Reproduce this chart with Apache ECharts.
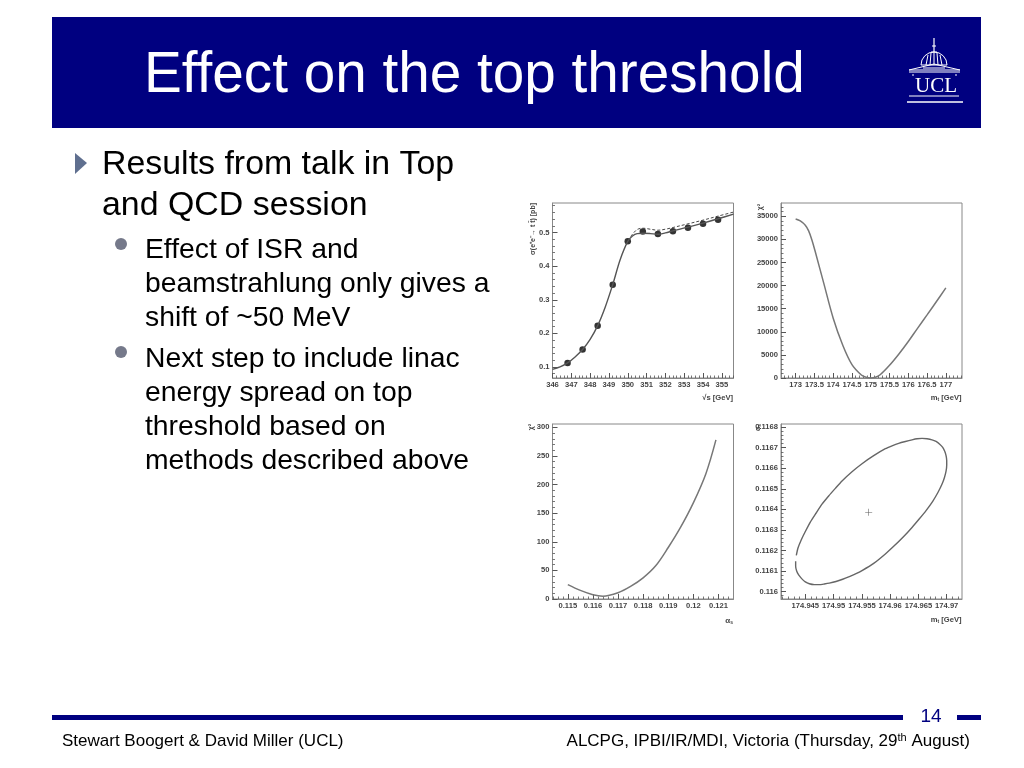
<!DOCTYPE html>
<html><head><meta charset="utf-8">
<style>html,body{margin:0;padding:0;background:#fff}#c{width:1024px;height:768px}</style>
<script src="https://cdn.jsdelivr.net/npm/echarts@6/dist/echarts.min.js"></script>
</head><body><div id="c"></div>
<script>
// Panel 1: cross section vs sqrt(s)
var sigmaPointsX = [346.8,347.6,348.4,349.2,350,350.8,351.6,352.4,353.2,354,354.8];
var sigmaPointsY = [0.112,0.152,0.223,0.345,0.474,0.503,0.496,0.504,0.514,0.526,0.538];
var sigmaSolidX = [346,346.4,346.8,347.2,347.6,348,348.4,348.8,349.2,349.6,350,350.25,350.5,350.8,351.2,351.6,352,352.4,353.2,354,354.8,355.62];
var sigmaSolidY = [0.093,0.100,0.112,0.130,0.152,0.182,0.223,0.278,0.345,0.420,0.474,0.490,0.497,0.498,0.497,0.495,0.499,0.505,0.516,0.528,0.541,0.555];
var sigmaDashX = [350,350.25,350.5,350.8,351.2,351.6,352,352.4,353.2,354,354.8,355.62];
var sigmaDashY = [0.476,0.495,0.509,0.513,0.510,0.507,0.510,0.515,0.526,0.537,0.549,0.561];
// Panel 2: chi2 vs mt
var chiMtX = [173,173.124,173.257,173.346,173.435,173.523,173.75,174,174.25,174.5,174.75,174.875,175,175.125,175.25,175.5,175.75,176,176.25,176.5,176.75,177];
var chiMtY = [34425,33995,33060,31840,29825,27310,20480,12940,7200,2900,650,150,0,150,700,2750,5200,7900,10800,13650,16550,19500];
// Panel 3: chi2 vs alpha_s
var chiAsX = [0.115,0.1155,0.116,0.1164,0.117,0.1175,0.118,0.1185,0.119,0.1195,0.12,0.1205,0.1209];
var chiAsY = [25,15,7.5,5,11,22,37,58,90,126,168,219,278];
// Panel 4: contour
var contourX = [174.943408,174.943703,174.944292,174.945,174.945884,174.946887,174.947948,174.949127,174.950306,174.951486,174.953254,174.955023,174.957087,174.95915,174.96033,174.961509,174.962688,174.963867,174.964752,174.965636,174.96652,174.967405,174.968112,174.968761,174.969292,174.969645,174.969881,174.969999,174.969999,174.969881,174.969586,174.969174,174.968466,174.967523,174.966344,174.965164,174.963867,174.962393,174.960624,174.95915,174.957087,174.955023,174.953962,174.952783,174.951604,174.950424,174.949245,174.948361,174.947476,174.946592,174.945708,174.945,174.944351,174.943821,174.943467,174.94329,174.94329];
var contourY = [0.116176,0.116212,0.116252,0.116292,0.116338,0.116381,0.116425,0.116465,0.116502,0.116538,0.116583,0.116622,0.116661,0.116695,0.116709,0.116721,0.11673,0.116738,0.116743,0.116745,0.116743,0.116738,0.11673,0.116717,0.116701,0.116682,0.116661,0.116637,0.116616,0.116586,0.116554,0.116523,0.116483,0.116439,0.116394,0.116354,0.116312,0.116268,0.11622,0.116183,0.116137,0.116102,0.116087,0.116073,0.11606,0.116049,0.116041,0.116037,0.116034,0.116034,0.116038,0.116047,0.116063,0.116081,0.1161,0.116123,0.116147];
var bestFitX = [174.9562];
var bestFitY = [0.116386];
// Tick labels
var ticksX1 = [346,347,348,349,350,351,352,353,354,355];
var ticksY1 = [0.1,0.2,0.3,0.4,0.5];
var ticksX2 = [173,173.5,174,174.5,175,175.5,176,176.5,177];
var ticksY2 = [0,5000,10000,15000,20000,25000,30000,35000];
var ticksX3 = [0.115,0.116,0.117,0.118,0.119,0.12,0.121];
var ticksY3 = [0,50,100,150,200,250,300];
var ticksX4 = [174.945,174.95,174.955,174.96,174.965,174.97];
var ticksY4 = [0.116,0.1161,0.1162,0.1163,0.1164,0.1165,0.1166,0.1167,0.1168];
// Slide text
var titleText = 'Effect on the top threshold';
var bulletLines = ['Results from talk in Top','and QCD session'];
var subLines = ['Effect of ISR and','beamstrahlung only gives a','shift of ~50 MeV','Next step to include linac','energy spread on top','threshold based on','methods described above'];
var footerLeft = 'Stewart Boogert & David Miller (UCL)';
var footerRight = 'ALCPG, IPBI/IR/MDI, Victoria (Thursday, 29{sup|th} August)';
var pageNumber = '14';

function zip(a,b){return a.map(function(v,i){return [v,b[i]];});}
var FONT='"Liberation Sans",Arial,sans-serif', NAVY='#000080', AX='#555';

var boxes=[
 {left:552.5,top:203,width:181,height:175},
 {left:781,top:203,width:181,height:175},
 {left:552.5,top:424,width:181,height:175},
 {left:781,top:424,width:181,height:175}
];
var grids=boxes.map(function(g){return Object.assign({show:true,borderColor:'#888',borderWidth:1,backgroundColor:'#fff'},g);})
 .concat(boxes.map(function(g){return Object.assign({show:false},g);}));

// minor tick positions: five divisions of the major step, filling the axis range
function minorOf(ticks,min,max){
 var step=ticks[1]-ticks[0], sub=step/5, out=[];
 for(var k=-10;k<ticks.length*5+10;k++){
  var v=ticks[0]+k*sub;
  if(v>min && v<max && k%5!==0) out.push(+v.toFixed(7));
 }
 return out;
}
function majorAxis(idx,min,max,ticks,pos){
 return {type:'value',gridIndex:idx,min:min,max:max,position:pos,
  axisLine:{show:true,lineStyle:{color:'#888',width:1}},splitLine:{show:false},
  axisTick:{show:true,inside:true,length:5,customValues:ticks,lineStyle:{color:AX,width:1}},
  axisLabel:{customValues:ticks,formatter:function(v){return String(v);},fontFamily:FONT,fontSize:7.6,fontWeight:'bold',color:'#444',margin:3}};
}
function minorAxis(idx,min,max,ticks,pos){
 return {type:'value',gridIndex:idx+4,min:min,max:max,position:pos,
  axisLine:{show:false},splitLine:{show:false},
  axisTick:{show:true,inside:true,length:2.5,customValues:minorOf(ticks,min,max),lineStyle:{color:AX,width:0.8}},
  axisLabel:{show:false}};
}
var xDefs=[[346,355.62,ticksX1],[172.61,177.43,ticksX2],[0.11439,0.1216,ticksX3],[174.9407,174.9727,ticksX4]];
var yDefs=[[0.0672,0.588,ticksY1],[0,37875,ticksY2],[0,305.8,ticksY3],[0.115964,0.116815,ticksY4]];
var xAxes=xDefs.map(function(d,i){return majorAxis(i,d[0],d[1],d[2],'bottom');})
 .concat(xDefs.map(function(d,i){return minorAxis(i,d[0],d[1],d[2],'bottom');}));
var yAxes=yDefs.map(function(d,i){return majorAxis(i,d[0],d[1],d[2],'left');})
 .concat(yDefs.map(function(d,i){return minorAxis(i,d[0],d[1],d[2],'left');}));

function line(idx,data,extra){return Object.assign({type:'line',xAxisIndex:idx,yAxisIndex:idx,data:data,symbol:'none',smooth:0.35,
  lineStyle:{color:'#777',width:1.5},silent:true,animation:false},extra||{});}

var series=[
 line(0,zip(sigmaDashX,sigmaDashY),{lineStyle:{color:'#333',width:0.9,type:[3,2]}}),
 line(0,zip(sigmaSolidX,sigmaSolidY),{lineStyle:{color:'#555',width:1.4}}),
 {type:'scatter',xAxisIndex:0,yAxisIndex:0,data:zip(sigmaPointsX,sigmaPointsY),symbol:'circle',symbolSize:6.5,itemStyle:{color:'#000'},animation:false},
 line(1,zip(chiMtX,chiMtY)),
 line(2,zip(chiAsX,chiAsY)),
 line(3,zip(contourX,contourY),{smooth:0.2,lineStyle:{color:'#666',width:1.4}}),
 {type:'scatter',xAxisIndex:3,yAxisIndex:3,data:zip(bestFitX,bestFitY),symbol:'path://M4.6 0h.8v4.6H10v.8H5.4V10h-.8V5.4H0v-.8h4.6z',symbolSize:7,itemStyle:{color:'#333'},animation:false}
];

function txt(x,y,t,size,color,extra){
 return {type:'text',x:x,y:y,silent:true,z:10,style:Object.assign({text:t,fontFamily:FONT,fontSize:size,fill:color,verticalAlign:'middle'},extra||{})};
}
function rect(x,y,w,h,c){return {type:'rect',silent:true,z:5,shape:{x:x,y:y,width:w,height:h},style:{fill:c}};}
function seg(x1,y1,x2,y2,w){return {type:'line',silent:true,z:11,shape:{x1:x1,y1:y1,x2:x2,y2:y2},style:{stroke:'#fff',lineWidth:w||1}};}
var SUBS={s:{fontFamily:FONT,fontSize:5,fontWeight:'bold',fill:'#444',padding:[4,0,0,0]}};
function rot(x,y,t,size){var e=txt(x,y,t,size,'#444',{fontWeight:'bold',align:'right',rich:SUBS});e.rotation=Math.PI/2;return e;}
function axTitle(x,y,t,size){return txt(x,y,t,size,'#444',{align:'right',fontWeight:'bold',rich:SUBS});}

var graphic=[
 rect(52,17,929,111,NAVY),
 txt(144,76,titleText,56.7,'#fff'),
 {type:'polygon',silent:true,z:6,shape:{points:[[75,153],[87,163],[75,174]]},style:{fill:'#5f6f8f'}},
 {type:'circle',silent:true,z:6,shape:{cx:121,cy:244,r:6},style:{fill:'#75798a'}},
 {type:'circle',silent:true,z:6,shape:{cx:121,cy:352,r:6},style:{fill:'#75798a'}},
 txt(102,165,bulletLines[0],33.9,'#000'),
 txt(102,206,bulletLines[1],33.9,'#000'),
 txt(145,250,subLines[0],28.3,'#000'),
 txt(145,284,subLines[1],28.3,'#000'),
 txt(145,318,subLines[2],28.3,'#000'),
 txt(145,359,subLines[3],28.3,'#000'),
 txt(145,393,subLines[4],28.3,'#000'),
 txt(145,427,subLines[5],28.3,'#000'),
 txt(145,461,subLines[6],28.3,'#000'),
 rect(52,715,851,5,NAVY),
 rect(957,715,24,5,NAVY),
 txt(931,717,pageNumber,19,NAVY,{align:'center'}),
 txt(62,741,footerLeft,17,'#000'),
 {type:'text',silent:true,z:10,x:970,y:741,style:{text:footerRight,fontFamily:FONT,fontSize:17,fill:'#000',align:'right',verticalAlign:'middle',
   rich:{sup:{fontFamily:FONT,fontSize:11,fill:'#000',padding:[0,0,7,0]}}}},
 // axis titles
 axTitle(733,398,'√s [GeV]',7.6),
 axTitle(961.5,398,'m{s|t} [GeV]',7.6),
 axTitle(733,621,'α{s|s}',8),
 axTitle(961.5,620,'m{s|t} [GeV]',7.6),
 rot(533,203,'σ(e⁺e⁻→ t t̄) [pb]',7),
 rot(760,204,'χ²',7),
 rot(531,424,'χ²',7),
 rot(758,424,'α{s|s}',7),
 // UCL logo
 txt(936,86,'UCL',21,'#fff',{align:'center',fontFamily:'"Liberation Serif",serif'}),
 seg(909,96,959,96,1),seg(907,102,963,102,1.5),
 seg(909,70,960,70,1),seg(909,72,960,72,1),seg(909,70,934,64,1),seg(960,70,934,64,1),
 seg(913,74,913,76,1),seg(956,74,956,76,1),
 {type:'arc',silent:true,z:11,shape:{cx:934,cy:65,r:13,startAngle:Math.PI,endAngle:2*Math.PI},style:{stroke:'#fff',fill:'none',lineWidth:1}},
 seg(926,65,928,55,1),seg(930,65,931,53,1),seg(934,65,934,52,1),seg(938,65,937,53,1),seg(942,65,940,55,1),
 seg(921,65,947,65,1),seg(923,68,945,68,1),
 seg(934,52,934,38,1.2),seg(931,52,937,52,1),seg(932,46,936,46,1)
];

var chart=echarts.init(document.getElementById('c'),null,{renderer:'canvas',width:1024,height:768});
chart.setOption({animation:false,backgroundColor:'#fff',grid:grids,xAxis:xAxes,yAxis:yAxes,series:series,graphic:{elements:graphic}});
</script></body></html>
